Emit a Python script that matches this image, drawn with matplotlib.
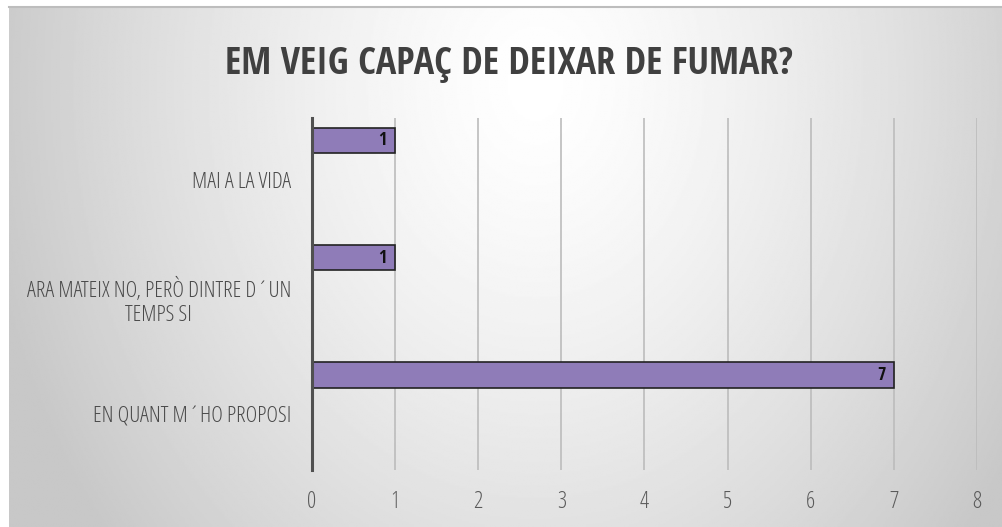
import numpy as np
import matplotlib.pyplot as plt
from matplotlib import font_manager

# chart data
categories = ["MAI A LA VIDA", "ARA MATEIX NO, PERÒ DINTRE D´UN\nTEMPS SI", "EN QUANT M´HO PROPOSI"]
values = [1, 1, 7]
x_ticks = [0, 1, 2, 3, 4, 5, 6, 7, 8]
title = "EM VEIG CAPAÇ DE DEIXAR DE FUMAR?"


def find_font(name, stretch, weight, size):
    for f in font_manager.fontManager.ttflist:
        if f.name == name and f.stretch == stretch and f.weight == weight:
            return font_manager.FontProperties(fname=f.fname, size=size)
    return font_manager.FontProperties(family="Carlito", size=size, weight=weight)


light = find_font("Open Sans", "condensed", 300, 16)
tick_font = find_font("Open Sans", "condensed", 300, 16.5)
bold_title = find_font("Open Sans Condensed", "condensed", 700, 27.5)
bold_lbl = find_font("Open Sans Condensed", "condensed", 700, 13)

fig = plt.figure(figsize=(10.03, 5.27), dpi=100)

# radial grey background (white strip on left/top like the screenshot)
bg = fig.add_axes([9 / 1003, 0, 994 / 1003, 520 / 527], zorder=-10)
yy, xx = np.mgrid[0:1:300j, 0:1:600j]
r = np.sqrt(((xx - 0.53) / 0.56) ** 2 + ((yy - 0.85) / 1.35) ** 2)
img = (255 - 55 * np.clip(r, 0, 1) ** 1.35) / 255
bg.imshow(img, cmap="gray", vmin=0, vmax=1, extent=[0, 1, 0, 1], aspect="auto", origin="lower")
bg.set_axis_off()
fig.add_artist(plt.Line2D([9 / 1003, 1], [520 / 527, 520 / 527], color="#bdbdbd", linewidth=1.5))

ax = fig.add_axes([0.311, 0.108, 0.663, 0.668])
ax.patch.set_alpha(0)

pos = np.arange(len(categories))
bar_y = pos - 0.31
ax.barh(bar_y, values, height=0.215, color="#8f7cb8", edgecolor="#222222", linewidth=1.2, zorder=3)
for y, v in zip(bar_y, values):
    ax.text(v - 0.1, y, str(v), ha="right", va="center", fontproperties=bold_lbl,
            color="#111111", zorder=4)

ax.set_ylim(2.5, -0.5)
ax.set_xlim(0, 8)
ax.set_yticks(pos + 0.03)
ax.set_yticklabels(categories, fontproperties=light, color="#4a4a4a", multialignment="center")
ax.tick_params(axis="y", length=0, pad=15)
ax.set_xticks(x_ticks)
ax.set_xticklabels([str(t) for t in x_ticks], fontproperties=tick_font, color="#5a5a5a")
ax.tick_params(axis="x", length=0, pad=14)

ax.grid(axis="x", color="#bcbcbc", linewidth=1.2, zorder=0)
for s in ["top", "right", "bottom"]:
    ax.spines[s].set_visible(False)
ax.spines["left"].set_color("#505050")
ax.spines["left"].set_linewidth(2.2)
ax.spines["left"].set_zorder(5)

fig.text(0.508, 0.878, title, ha="center", va="center", fontproperties=bold_title, color="#404040")

fig.savefig("out.png", dpi=100)
